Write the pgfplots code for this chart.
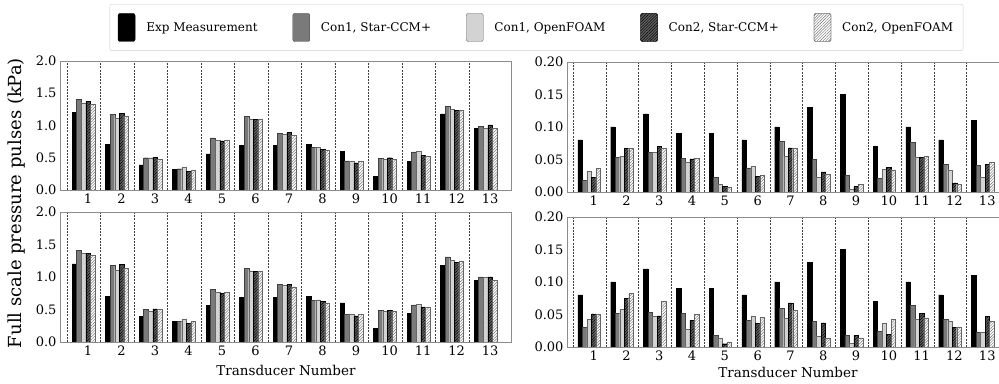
\documentclass[border=0pt]{standalone}
\usepackage{pgfplots}
\pgfplotsset{compat=1.18}
\usepackage{pgfplotstable}
\usepackage{fontspec}
\setmainfont{DejaVu Serif}
\usetikzlibrary{patterns.meta}

\pgfplotstableread{
x exp s1 o1 s2 o2
1 1.20 1.40 1.35 1.37 1.33
2 0.71 1.17 1.12 1.19 1.15
3 0.39 0.50 0.50 0.51 0.48
4 0.32 0.33 0.35 0.29 0.30
5 0.56 0.81 0.77 0.76 0.77
6 0.69 1.14 1.10 1.10 1.09
7 0.69 0.88 0.86 0.89 0.85
8 0.71 0.66 0.66 0.63 0.61
9 0.60 0.45 0.45 0.42 0.44
10 0.21 0.49 0.48 0.50 0.48
11 0.44 0.59 0.60 0.54 0.53
12 1.18 1.30 1.25 1.24 1.23
13 0.96 0.99 0.96 1.01 0.96
}\tA

\pgfplotstableread{
x exp s1 o1 s2 o2
1 1.20 1.41 1.36 1.36 1.33
2 0.70 1.18 1.11 1.19 1.14
3 0.39 0.50 0.47 0.51 0.50
4 0.32 0.32 0.35 0.29 0.32
5 0.56 0.81 0.76 0.75 0.76
6 0.69 1.13 1.09 1.09 1.09
7 0.69 0.89 0.87 0.89 0.85
8 0.70 0.64 0.65 0.62 0.60
9 0.60 0.42 0.43 0.40 0.42
10 0.21 0.49 0.47 0.49 0.48
11 0.44 0.57 0.58 0.54 0.53
12 1.18 1.31 1.26 1.22 1.24
13 0.95 1.00 0.99 1.00 0.95
}\tB

\pgfplotstableread{
x exp s1 o1 s2 o2
1 0.080 0.018 0.032 0.022 0.036
2 0.100 0.053 0.055 0.067 0.068
3 0.120 0.061 0.061 0.070 0.067
4 0.090 0.052 0.046 0.051 0.052
5 0.090 0.022 0.012 0.009 0.007
6 0.080 0.037 0.039 0.024 0.026
7 0.100 0.078 0.055 0.068 0.068
8 0.130 0.050 0.022 0.031 0.027
9 0.150 0.026 0.004 0.009 0.012
10 0.070 0.021 0.035 0.038 0.034
11 0.100 0.076 0.054 0.053 0.055
12 0.080 0.042 0.034 0.014 0.012
13 0.110 0.041 0.022 0.043 0.046
}\tC

\pgfplotstableread{
x exp s1 o1 s2 o2
1 0.080 0.030 0.042 0.051 0.051
2 0.100 0.052 0.058 0.075 0.083
3 0.120 0.053 0.047 0.048 0.071
4 0.090 0.052 0.027 0.041 0.050
5 0.090 0.018 0.014 0.005 0.008
6 0.080 0.041 0.048 0.036 0.046
7 0.100 0.059 0.044 0.068 0.056
8 0.130 0.039 0.016 0.037 0.014
9 0.150 0.018 0.006 0.018 0.014
10 0.070 0.024 0.036 0.019 0.042
11 0.100 0.064 0.042 0.052 0.045
12 0.080 0.042 0.040 0.030 0.031
13 0.110 0.022 0.023 0.047 0.039
}\tD

\definecolor{cgray}{HTML}{7A7A7A}
\definecolor{clight}{HTML}{D3D3D3}
\definecolor{cdark}{HTML}{5E5E5E}

\pgfplotsset{
  bexp/.style={ybar, bar width=0.137, bar shift=-0.274, fill=black, draw=black, line width=0.4pt},
  bs1/.style={ybar, bar width=0.137, bar shift=-0.137, fill=cgray, draw=black!75, line width=0.4pt},
  bo1/.style={ybar, bar width=0.137, bar shift=0, fill=clight, draw=black!60, line width=0.4pt},
  bs2/.style={ybar, bar width=0.137, bar shift=0.137, fill=cdark, draw=black, line width=0.4pt,
     postaction={pattern={Lines[angle=45,distance=2pt,line width=0.45pt]}, pattern color=black}},
  bo2/.style={ybar, bar width=0.137, bar shift=0.274, fill=white, draw=black!60, line width=0.4pt,
     postaction={pattern={Lines[angle=45,distance=2pt,line width=0.45pt]}, pattern color=black!55}},
  panel/.style={
    scale only axis, anchor=south west,
    axis line style={black!45, line width=0.8pt},
    xtick={1.137,2.137,3.137,4.137,5.137,6.137,7.137,8.137,9.137,10.137,11.137,12.137,13.137},
    xticklabels={1,2,3,4,5,6,7,8,9,10,11,12,13},
    minor xtick={0.5075,1.5075,2.5075,3.5075,4.5075,5.5075,6.5075,7.5075,8.5075,9.5075,10.5075,11.5075,12.5075},
    xminorgrids,
    minor grid style={black!75, line width=0.5pt, dash pattern=on 2pt off 1.2pt},
    major tick length=0pt, minor tick length=0pt,
    ymin=0,
    tick label style={font=\fontsize{13}{13}\selectfont},
    /pgf/number format/assume math mode=true,
    /pgf/number format/fixed, /pgf/number format/fixed zerofill,
    xticklabel pos=bottom, yticklabel pos=left,
  },
  leftpanel/.style={panel, width=451pt, height=129pt, xmin=0.2975, xmax=13.76, ymax=2,
    ytick={0,0.5,1,1.5,2}, yticklabel style={/pgf/number format/precision=1}},
  rightpanel/.style={panel, width=432pt, height=130pt, xmin=0.3245, xmax=13.495, ymax=0.2,
    ytick={0,0.05,0.1,0.15,0.2}, yticklabel style={/pgf/number format/precision=2},
    axis x line*=box, axis y line*=left},
}

\begin{document}
\begin{tikzpicture}

% top-left
\begin{axis}[leftpanel, at={(60pt,193pt)},
  legend style={at={(1.0565,1.26)}, anchor=center, legend columns=5,
    draw=black!20, rounded corners=2pt, font=\fontsize{12}{12}\selectfont,
    inner xsep=8pt, inner ysep=9pt,
    /tikz/every odd column/.append style={column sep=9pt},
    /tikz/every even column/.append style={column sep=33pt}},
  legend image code/.code={\draw[#1] (0pt,-14pt) rectangle (17pt,14pt);}]
\addplot[bexp] table[x=x,y=exp] \tA;
\addplot[bs1] table[x=x,y=s1] \tA;
\addplot[bo1] table[x=x,y=o1] \tA;
\addplot[bs2] table[x=x,y=s2] \tA;
\addplot[bo2] table[x=x,y=o2] \tA;
\legend{Exp Measurement, {Con1, Star-CCM+}, {Con1, OpenFOAM}, {Con2, Star-CCM+}, {Con2, OpenFOAM}}
\end{axis}

% bottom-left
\begin{axis}[leftpanel, at={(60pt,41pt)}, height=130pt]
\addplot[bexp] table[x=x,y=exp] \tB;
\addplot[bs1] table[x=x,y=s1] \tB;
\addplot[bo1] table[x=x,y=o1] \tB;
\addplot[bs2] table[x=x,y=s2] \tB;
\addplot[bo2] table[x=x,y=o2] \tB;
\end{axis}

% top-right
\begin{axis}[rightpanel, at={(567pt,191pt)}]
\addplot[bexp] table[x=x,y=exp] \tC;
\addplot[bs1] table[x=x,y=s1] \tC;
\addplot[bo1] table[x=x,y=o1] \tC;
\addplot[bs2] table[x=x,y=s2] \tC;
\addplot[bo2] table[x=x,y=o2] \tC;
\end{axis}

% bottom-right
\begin{axis}[rightpanel, at={(567pt,36pt)}]
\addplot[bexp] table[x=x,y=exp] \tD;
\addplot[bs1] table[x=x,y=s1] \tD;
\addplot[bo1] table[x=x,y=o1] \tD;
\addplot[bs2] table[x=x,y=s2] \tD;
\addplot[bo2] table[x=x,y=o2] \tD;
\end{axis}

\node[rotate=90, font=\fontsize{18}{18}\selectfont] at (17pt,180pt) {Full scale pressure pulses (kPa)};
\node[font=\fontsize{13.5}{14}\selectfont] at (286pt,13pt) {Transducer Number};
\node[font=\fontsize{13.5}{14}\selectfont] at (788pt,11pt) {Transducer Number};

\pgfresetboundingbox
\useasboundingbox (0pt,0pt) rectangle (999pt,383pt);
\end{tikzpicture}
\end{document}
